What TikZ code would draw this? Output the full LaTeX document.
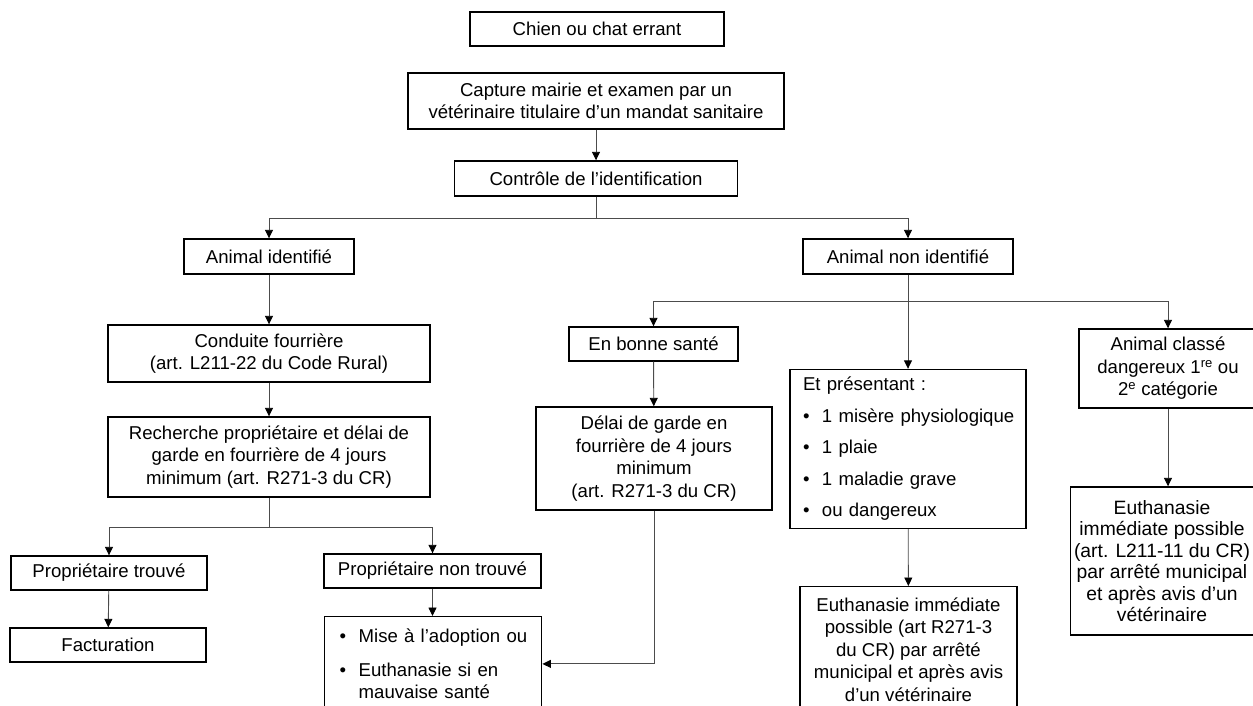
\documentclass[tikz,border=0pt]{standalone}
\usepackage{fontspec}
\setmainfont{Liberation Sans}
\usetikzlibrary{arrows.meta}

\newcommand{\puce}[1]{\mbox{\makebox[19pt][l]{\textbullet}#1}}

\begin{document}
\begin{tikzpicture}[>={Triangle[width=8pt,length=8.5pt,color=black]}, x=1pt, y=-1pt,
    boite/.style={draw, line width=1.4pt, inner sep=0pt, align=center, font=\fontsize{18.6}{22.5}\selectfont},
    lien/.style={black!70, line width=0.9pt}]
\useasboundingbox (0,0) rectangle (1253,705);
\clip (0,0) rectangle (1253,705);

\node (chien) at (597,29)[boite, minimum width=254pt, minimum height=34pt]{Chien ou chat errant};
\node (capture) at (596,101)[boite, minimum width=376pt, minimum height=56pt]{Capture mairie et examen par un\\vétérinaire titulaire d’un mandat sanitaire};
\node (controle) at (596,178.5)[boite, minimum width=283pt, minimum height=35pt]{Contrôle de l’identification};

\node (ident) at (269,256.5)[boite, minimum width=170pt, minimum height=35pt]{Animal identifié};
\node (nonident) at (908,256.5)[boite, minimum width=210pt, minimum height=35pt]{Animal non identifié};

\node (conduite) at (269,353.5)[boite, minimum width=322pt, minimum height=57pt]{Conduite fourrière\\(art. L211-22 du Code Rural)};
\node (recherche) at (269,457)[boite, minimum width=322pt, minimum height=80pt]{Recherche propriétaire et délai de\\garde en fourrière de 4 jours\\minimum (art. R271-3 du CR)};
\node (trouve) at (109,573)[boite, minimum width=196pt, minimum height=34pt]{Propriétaire trouvé};
\node (factu) at (108,645)[boite, minimum width=196pt, minimum height=34pt]{Facturation};
\node (nontrouve) at (432.5,571)[boite, minimum width=217pt, minimum height=34pt]{Propriétaire non trouvé};
\node (mise) at (324,616)[boite, anchor=north west, align=left, text width=187pt, inner xsep=15pt, inner ysep=12pt]{\puce{Mise à l’adoption ou}\\[11.5pt]\puce{Euthanasie si en}\\\hspace*{19pt}mauvaise santé};

\node (sante) at (653.5,344)[boite, minimum width=169pt, minimum height=34pt]{En bonne santé};
\node (delai) at (654,458.5)[boite, minimum width=236pt, minimum height=103pt]{Délai de garde en\\fourrière de 4 jours\\minimum\\(art. R271-3 du CR)};
\node (present) at (908,449)[boite, minimum width=236pt, minimum height=159pt, align=left, text width=210pt]{Et présentant :\\[9pt]\puce{1 misère physiologique}\\[9pt]\puce{1 plaie}\\[9pt]\puce{1 maladie grave}\\[9pt]\puce{ou dangereux}};
\node (euthmid) at (908.5,586)[boite, anchor=north, minimum width=217pt, inner ysep=11pt]{Euthanasie immédiate\\possible (art R271-3\\du CR) par arrêté\\municipal et après avis\\d’un vétérinaire};
\node (classe) at (1168,368.5)[boite, minimum width=178pt, minimum height=79pt]{Animal classé\\dangereux 1\textsuperscript{re} ou\\2\textsuperscript{e} catégorie};
\node (euthright) at (1162,561)[boite, minimum width=183pt, minimum height=148pt, font=\fontsize{19.3}{21.5}\selectfont]{Euthanasie\\immédiate possible\\(art. L211-11 du CR)\\par arrêté municipal\\et après avis d’un\\vétérinaire};

\coordinate (b1) at (596,218);
\coordinate (b2) at (269,527);
\coordinate (b3) at (908,301);

\draw[lien, ->] (capture) -- (controle);
\draw[lien] (controle.south) -- (b1);
\foreach \n in {ident,nonident}
{
    \draw[lien, ->] (b1) -| (\n.north);
}
\draw[lien, ->] (ident) -- (conduite);
\draw[lien, ->] (conduite) -- (recherche);
\draw[lien] (recherche.south) -- (b2);
\foreach \n in {trouve,nontrouve}
{
    \draw[lien, ->] (b2) -| (\n.north);
}
\draw[lien, ->] (trouve) -- (factu);
\draw[lien, ->] (nontrouve.south) -- (nontrouve.south |- mise.north);
\draw[lien, ->] (delai.south) |- (mise.east);

\draw[lien, ->] (nonident) -- (present);
\foreach \n in {sante,classe}
{
    \draw[lien, ->] (b3) -| (\n.north);
}
\draw[lien, ->] (sante) -- (delai);
\draw[lien, ->] (present) -- (euthmid);
\draw[lien, ->] (classe) -- (classe |- euthright.north);

\end{tikzpicture}
\end{document}
